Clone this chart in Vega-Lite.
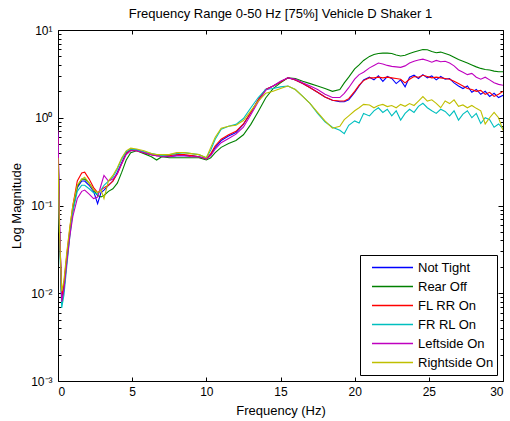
{
  "$schema": "https://vega.github.io/schema/vega-lite/v6.json",
  "width": 445,
  "height": 351,
  "autosize": {"type": "none"},
  "padding": {"left": 58, "top": 30, "right": 7, "bottom": 40},
  "background": "white",
  "title": {"text": "Frequency Range 0-50 Hz [75%] Vehicle D Shaker 1", "font": "Liberation Sans", "fontSize": 13, "fontWeight": "normal", "color": "black", "offset": 3},
  "data": {"values": [
    {"f": 0.0, "Not Tight": 0.65, "Rear Off": 0.55, "FL RR On": 0.6, "FR RL On": 0.5, "Leftside On": 0.72, "Rightside On": 0.35},
    {"f": 0.1, "Not Tight": 0.06, "Rear Off": 0.05, "FL RR On": 0.06, "FR RL On": 0.05, "Leftside On": 0.07, "Rightside On": 0.05},
    {"f": 0.25, "Not Tight": 0.0085, "Rear Off": 0.0075, "FL RR On": 0.009, "FR RL On": 0.0068, "Leftside On": 0.008, "Rightside On": 0.0105},
    {"f": 0.4, "Not Tight": 0.012, "Rear Off": 0.011, "FL RR On": 0.013, "FR RL On": 0.0095, "Leftside On": 0.011, "Rightside On": 0.014},
    {"f": 0.6, "Not Tight": 0.026, "Rear Off": 0.024, "FL RR On": 0.028, "FR RL On": 0.021, "Leftside On": 0.023, "Rightside On": 0.03},
    {"f": 0.8, "Not Tight": 0.05, "Rear Off": 0.048, "FL RR On": 0.055, "FR RL On": 0.045, "Leftside On": 0.045, "Rightside On": 0.058},
    {"f": 1.0, "Not Tight": 0.09, "Rear Off": 0.088, "FL RR On": 0.1, "FR RL On": 0.085, "Leftside On": 0.075, "Rightside On": 0.1},
    {"f": 1.3, "Not Tight": 0.16, "Rear Off": 0.165, "FL RR On": 0.19, "FR RL On": 0.145, "Leftside On": 0.12, "Rightside On": 0.17},
    {"f": 1.6, "Not Tight": 0.19, "Rear Off": 0.2, "FL RR On": 0.235, "FR RL On": 0.17, "Leftside On": 0.145, "Rightside On": 0.2},
    {"f": 1.8, "Not Tight": 0.19, "Rear Off": 0.2, "FL RR On": 0.24, "FR RL On": 0.17, "Leftside On": 0.15, "Rightside On": 0.21},
    {"f": 2.1, "Not Tight": 0.17, "Rear Off": 0.18, "FL RR On": 0.2, "FR RL On": 0.155, "Leftside On": 0.135, "Rightside On": 0.18},
    {"f": 2.4, "Not Tight": 0.145, "Rear Off": 0.15, "FL RR On": 0.16, "FR RL On": 0.14, "Leftside On": 0.12, "Rightside On": 0.15},
    {"f": 2.67, "Not Tight": 0.105, "Rear Off": 0.13, "FL RR On": 0.14, "FR RL On": 0.135, "Leftside On": 0.125, "Rightside On": 0.14},
    {"f": 2.9, "Not Tight": 0.14, "Rear Off": 0.125, "FL RR On": 0.15, "FR RL On": 0.15, "Leftside On": 0.17, "Rightside On": 0.15},
    {"f": 3.1, "Not Tight": 0.15, "Rear Off": 0.13, "FL RR On": 0.16, "FR RL On": 0.17, "Leftside On": 0.22, "Rightside On": 0.12},
    {"f": 3.4, "Not Tight": 0.17, "Rear Off": 0.145, "FL RR On": 0.17, "FR RL On": 0.19, "Leftside On": 0.19, "Rightside On": 0.19},
    {"f": 3.7, "Not Tight": 0.19, "Rear Off": 0.155, "FL RR On": 0.19, "FR RL On": 0.21, "Leftside On": 0.2, "Rightside On": 0.22},
    {"f": 4.0, "Not Tight": 0.24, "Rear Off": 0.18, "FL RR On": 0.23, "FR RL On": 0.26, "Leftside On": 0.23, "Rightside On": 0.27},
    {"f": 4.3, "Not Tight": 0.31, "Rear Off": 0.24, "FL RR On": 0.3, "FR RL On": 0.34, "Leftside On": 0.3, "Rightside On": 0.35},
    {"f": 4.6, "Not Tight": 0.4, "Rear Off": 0.33, "FL RR On": 0.39, "FR RL On": 0.41, "Leftside On": 0.38, "Rightside On": 0.42},
    {"f": 4.9, "Not Tight": 0.43, "Rear Off": 0.4, "FL RR On": 0.43, "FR RL On": 0.44, "Leftside On": 0.42, "Rightside On": 0.45},
    {"f": 5.3, "Not Tight": 0.43, "Rear Off": 0.42, "FL RR On": 0.42, "FR RL On": 0.43, "Leftside On": 0.42, "Rightside On": 0.44},
    {"f": 5.8, "Not Tight": 0.4, "Rear Off": 0.39, "FL RR On": 0.4, "FR RL On": 0.41, "Leftside On": 0.4, "Rightside On": 0.42},
    {"f": 6.3, "Not Tight": 0.38, "Rear Off": 0.36, "FL RR On": 0.38, "FR RL On": 0.39, "Leftside On": 0.38, "Rightside On": 0.39},
    {"f": 6.65, "Not Tight": 0.37, "Rear Off": 0.33, "FL RR On": 0.37, "FR RL On": 0.38, "Leftside On": 0.37, "Rightside On": 0.38},
    {"f": 7.0, "Not Tight": 0.37, "Rear Off": 0.36, "FL RR On": 0.37, "FR RL On": 0.37, "Leftside On": 0.36, "Rightside On": 0.38},
    {"f": 7.5, "Not Tight": 0.36, "Rear Off": 0.35, "FL RR On": 0.37, "FR RL On": 0.38, "Leftside On": 0.36, "Rightside On": 0.38},
    {"f": 8.0, "Not Tight": 0.37, "Rear Off": 0.35, "FL RR On": 0.38, "FR RL On": 0.39, "Leftside On": 0.37, "Rightside On": 0.4},
    {"f": 8.5, "Not Tight": 0.37, "Rear Off": 0.35, "FL RR On": 0.38, "FR RL On": 0.4, "Leftside On": 0.37, "Rightside On": 0.4},
    {"f": 9.0, "Not Tight": 0.37, "Rear Off": 0.35, "FL RR On": 0.37, "FR RL On": 0.39, "Leftside On": 0.36, "Rightside On": 0.39},
    {"f": 9.5, "Not Tight": 0.36, "Rear Off": 0.35, "FL RR On": 0.36, "FR RL On": 0.38, "Leftside On": 0.36, "Rightside On": 0.38},
    {"f": 10.0, "Not Tight": 0.34, "Rear Off": 0.33, "FL RR On": 0.34, "FR RL On": 0.35, "Leftside On": 0.34, "Rightside On": 0.35},
    {"f": 10.3, "Not Tight": 0.38, "Rear Off": 0.35, "FL RR On": 0.39, "FR RL On": 0.43, "Leftside On": 0.37, "Rightside On": 0.46},
    {"f": 10.6, "Not Tight": 0.46, "Rear Off": 0.4, "FL RR On": 0.48, "FR RL On": 0.57, "Leftside On": 0.44, "Rightside On": 0.6},
    {"f": 11.0, "Not Tight": 0.55, "Rear Off": 0.46, "FL RR On": 0.57, "FR RL On": 0.74, "Leftside On": 0.52, "Rightside On": 0.76},
    {"f": 11.5, "Not Tight": 0.62, "Rear Off": 0.51, "FL RR On": 0.64, "FR RL On": 0.8, "Leftside On": 0.58, "Rightside On": 0.8},
    {"f": 12.0, "Not Tight": 0.68, "Rear Off": 0.55, "FL RR On": 0.7, "FR RL On": 0.84, "Leftside On": 0.65, "Rightside On": 0.82},
    {"f": 12.5, "Not Tight": 0.84, "Rear Off": 0.64, "FL RR On": 0.85, "FR RL On": 0.98, "Leftside On": 0.78, "Rightside On": 0.93},
    {"f": 13.0, "Not Tight": 1.15, "Rear Off": 0.84, "FL RR On": 1.15, "FR RL On": 1.3, "Leftside On": 1.08, "Rightside On": 1.2},
    {"f": 13.5, "Not Tight": 1.6, "Rear Off": 1.18, "FL RR On": 1.6, "FR RL On": 1.7, "Leftside On": 1.52, "Rightside On": 1.55},
    {"f": 14.0, "Not Tight": 2.1, "Rear Off": 1.68, "FL RR On": 2.1, "FR RL On": 2.1, "Leftside On": 2.05, "Rightside On": 1.9},
    {"f": 14.5, "Not Tight": 2.3, "Rear Off": 2.15, "FL RR On": 2.3, "FR RL On": 2.15, "Leftside On": 2.3, "Rightside On": 2.0},
    {"f": 15.0, "Not Tight": 2.55, "Rear Off": 2.5, "FL RR On": 2.55, "FR RL On": 2.25, "Leftside On": 2.6, "Rightside On": 2.15},
    {"f": 15.5, "Not Tight": 2.85, "Rear Off": 2.85, "FL RR On": 2.85, "FR RL On": 2.3, "Leftside On": 2.85, "Rightside On": 2.3},
    {"f": 16.0, "Not Tight": 2.7, "Rear Off": 2.8, "FL RR On": 2.7, "FR RL On": 2.1, "Leftside On": 2.75, "Rightside On": 2.1},
    {"f": 16.5, "Not Tight": 2.45, "Rear Off": 2.6, "FL RR On": 2.45, "FR RL On": 1.75, "Leftside On": 2.5, "Rightside On": 1.75},
    {"f": 17.0, "Not Tight": 2.2, "Rear Off": 2.45, "FL RR On": 2.2, "FR RL On": 1.45, "Leftside On": 2.3, "Rightside On": 1.45},
    {"f": 17.5, "Not Tight": 1.95, "Rear Off": 2.3, "FL RR On": 1.95, "FR RL On": 1.12, "Leftside On": 2.1, "Rightside On": 1.15},
    {"f": 18.0, "Not Tight": 1.72, "Rear Off": 2.15, "FL RR On": 1.72, "FR RL On": 0.9, "Leftside On": 1.85, "Rightside On": 0.92},
    {"f": 18.5, "Not Tight": 1.58, "Rear Off": 2.0, "FL RR On": 1.58, "FR RL On": 0.78, "Leftside On": 1.7, "Rightside On": 0.76},
    {"f": 19.0, "Not Tight": 1.52, "Rear Off": 2.1, "FL RR On": 1.55, "FR RL On": 0.72, "Leftside On": 1.7, "Rightside On": 0.8},
    {"f": 19.3, "Not Tight": 1.52, "Rear Off": 2.5, "FL RR On": 1.55, "FR RL On": 0.66, "Leftside On": 1.9, "Rightside On": 0.95},
    {"f": 19.6, "Not Tight": 1.6, "Rear Off": 2.9, "FL RR On": 1.65, "FR RL On": 0.82, "Leftside On": 2.2, "Rightside On": 1.05},
    {"f": 20.0, "Not Tight": 1.95, "Rear Off": 3.6, "FL RR On": 2.0, "FR RL On": 0.92, "Leftside On": 2.75, "Rightside On": 1.2},
    {"f": 20.3, "Not Tight": 2.3, "Rear Off": 4.0, "FL RR On": 2.35, "FR RL On": 0.87, "Leftside On": 3.1, "Rightside On": 1.3},
    {"f": 20.6, "Not Tight": 2.7, "Rear Off": 4.5, "FL RR On": 2.65, "FR RL On": 1.12, "Leftside On": 3.3, "Rightside On": 1.42},
    {"f": 21.0, "Not Tight": 2.9, "Rear Off": 5.0, "FL RR On": 2.85, "FR RL On": 1.05, "Leftside On": 3.7, "Rightside On": 1.4},
    {"f": 21.3, "Not Tight": 2.7, "Rear Off": 5.25, "FL RR On": 2.85, "FR RL On": 1.2, "Leftside On": 3.95, "Rightside On": 1.3},
    {"f": 21.6, "Not Tight": 3.0, "Rear Off": 5.4, "FL RR On": 2.9, "FR RL On": 1.3, "Leftside On": 4.2, "Rightside On": 1.38},
    {"f": 21.9, "Not Tight": 2.6, "Rear Off": 5.45, "FL RR On": 2.85, "FR RL On": 1.15, "Leftside On": 4.1, "Rightside On": 1.42},
    {"f": 22.2, "Not Tight": 2.95, "Rear Off": 5.45, "FL RR On": 2.9, "FR RL On": 1.25, "Leftside On": 3.95, "Rightside On": 1.34},
    {"f": 22.5, "Not Tight": 2.8, "Rear Off": 5.4, "FL RR On": 2.85, "FR RL On": 1.05, "Leftside On": 3.85, "Rightside On": 1.38},
    {"f": 22.8, "Not Tight": 2.45, "Rear Off": 5.2, "FL RR On": 2.8, "FR RL On": 1.2, "Leftside On": 3.8, "Rightside On": 1.3},
    {"f": 23.1, "Not Tight": 2.7, "Rear Off": 5.05, "FL RR On": 2.75, "FR RL On": 0.94, "Leftside On": 3.75, "Rightside On": 1.42},
    {"f": 23.4, "Not Tight": 2.25, "Rear Off": 5.15, "FL RR On": 2.5, "FR RL On": 1.12, "Leftside On": 3.9, "Rightside On": 1.35},
    {"f": 23.7, "Not Tight": 2.9, "Rear Off": 5.4, "FL RR On": 2.75, "FR RL On": 1.25, "Leftside On": 4.2, "Rightside On": 1.45},
    {"f": 24.0, "Not Tight": 3.05, "Rear Off": 5.6, "FL RR On": 2.95, "FR RL On": 1.15, "Leftside On": 4.4, "Rightside On": 1.38},
    {"f": 24.3, "Not Tight": 2.8, "Rear Off": 5.8, "FL RR On": 2.9, "FR RL On": 1.35, "Leftside On": 4.55, "Rightside On": 1.55},
    {"f": 24.6, "Not Tight": 3.1, "Rear Off": 6.0, "FL RR On": 3.05, "FR RL On": 1.46, "Leftside On": 4.65, "Rightside On": 1.74},
    {"f": 24.9, "Not Tight": 2.85, "Rear Off": 5.95, "FL RR On": 2.95, "FR RL On": 1.3, "Leftside On": 4.5, "Rightside On": 1.55},
    {"f": 25.2, "Not Tight": 3.0, "Rear Off": 5.7, "FL RR On": 2.85, "FR RL On": 1.2, "Leftside On": 4.3, "Rightside On": 1.6},
    {"f": 25.5, "Not Tight": 2.7, "Rear Off": 5.5, "FL RR On": 2.9, "FR RL On": 1.12, "Leftside On": 4.5, "Rightside On": 1.46},
    {"f": 25.8, "Not Tight": 2.95, "Rear Off": 5.6, "FL RR On": 2.85, "FR RL On": 1.25, "Leftside On": 4.35, "Rightside On": 1.3},
    {"f": 26.1, "Not Tight": 2.75, "Rear Off": 5.4, "FL RR On": 2.8, "FR RL On": 1.18, "Leftside On": 4.4, "Rightside On": 1.55},
    {"f": 26.4, "Not Tight": 2.8, "Rear Off": 5.2, "FL RR On": 2.75, "FR RL On": 1.05, "Leftside On": 4.2, "Rightside On": 1.45},
    {"f": 26.7, "Not Tight": 2.5, "Rear Off": 4.9, "FL RR On": 2.6, "FR RL On": 1.2, "Leftside On": 3.9, "Rightside On": 1.6},
    {"f": 27.0, "Not Tight": 2.3, "Rear Off": 4.6, "FL RR On": 2.45, "FR RL On": 0.94, "Leftside On": 3.5, "Rightside On": 1.35},
    {"f": 27.3, "Not Tight": 2.15, "Rear Off": 4.4, "FL RR On": 2.3, "FR RL On": 1.1, "Leftside On": 3.3, "Rightside On": 1.4},
    {"f": 27.6, "Not Tight": 2.3, "Rear Off": 4.2, "FL RR On": 2.15, "FR RL On": 1.2, "Leftside On": 3.1, "Rightside On": 1.3},
    {"f": 27.9, "Not Tight": 1.95, "Rear Off": 4.0, "FL RR On": 2.1, "FR RL On": 1.0, "Leftside On": 3.2, "Rightside On": 1.38},
    {"f": 28.2, "Not Tight": 2.1, "Rear Off": 3.8, "FL RR On": 2.0, "FR RL On": 1.12, "Leftside On": 2.9, "Rightside On": 1.28},
    {"f": 28.5, "Not Tight": 1.85, "Rear Off": 3.65, "FL RR On": 2.05, "FR RL On": 0.86, "Leftside On": 2.75, "Rightside On": 1.2},
    {"f": 28.8, "Not Tight": 2.0, "Rear Off": 3.55, "FL RR On": 1.85, "FR RL On": 1.0, "Leftside On": 2.9, "Rightside On": 0.85},
    {"f": 29.1, "Not Tight": 1.75, "Rear Off": 3.5, "FL RR On": 1.95, "FR RL On": 0.95, "Leftside On": 2.7, "Rightside On": 1.0},
    {"f": 29.4, "Not Tight": 1.9, "Rear Off": 3.4, "FL RR On": 1.75, "FR RL On": 0.78, "Leftside On": 2.5, "Rightside On": 1.15},
    {"f": 29.7, "Not Tight": 1.7, "Rear Off": 3.35, "FL RR On": 1.85, "FR RL On": 0.85, "Leftside On": 2.4, "Rightside On": 1.0},
    {"f": 30.0, "Not Tight": 1.8, "Rear Off": 3.35, "FL RR On": 2.0, "FR RL On": 0.75, "Leftside On": 2.35, "Rightside On": 0.72}
  ]},
  "transform": [
    {"fold": ["Not Tight", "Rear Off", "FL RR On", "FR RL On", "Leftside On", "Rightside On"], "as": ["series", "mag"]}
  ],
  "layer": [
    {
      "mark": {"type": "line", "strokeWidth": 1.1, "clip": true},
      "encoding": {
        "x": {"field": "f", "type": "quantitative", "scale": {"domain": [0, 30], "nice": false, "zero": false},
              "axis": {"orient": "bottom", "values": [0, 5, 10, 15, 20, 25, 30], "title": "Frequency (Hz)", "tickSize": -4, "labelPadding": 9, "titlePadding": 7}},
        "y": {"field": "mag", "type": "quantitative", "scale": {"type": "log", "domain": [0.001, 10], "nice": false},
              "axis": {"orient": "left", "values": [0.001, 0.01, 0.1, 1, 10], "title": "Log Magnitude", "tickSize": -5, "labelPadding": 11, "titlePadding": 7,
                       "labelExpr": "datum.value > 5 ? '10¹' : datum.value > 0.5 ? '10⁰' : datum.value > 0.05 ? '10⁻¹' : datum.value > 0.005 ? '10⁻²' : '10⁻³'"}},
        "color": {"field": "series", "type": "nominal",
                  "scale": {"domain": ["Not Tight", "Rear Off", "FL RR On", "FR RL On", "Leftside On", "Rightside On"],
                            "range": ["#0000FF", "#008000", "#FF0000", "#00BFBF", "#BF00BF", "#BFBF00"]},
                  "legend": {"orient": "bottom-right", "offset": 6, "title": null, "symbolType": "stroke", "symbolSize": 1681, "symbolStrokeWidth": 1.3,
                             "symbolOpacity": 1,
                             "strokeColor": "black", "fillColor": "white", "padding": 3, "symbolOffset": 8, "clipHeight": 19, "rowPadding": 0,
                             "labelFontSize": 13, "labelFont": "Liberation Sans", "labelColor": "black", "labelOffset": 4, "labelBaseline": "middle"}}
      }
    },
    {
      "mark": {"type": "point", "opacity": 0},
      "encoding": {
        "x": {"field": "f", "type": "quantitative", "axis": {"orient": "top", "values": [0, 5, 10, 15, 20, 25, 30], "labels": false, "title": null, "tickSize": -4}},
        "y": {"field": "mag", "type": "quantitative", "scale": {"type": "log"}, "axis": {"orient": "right", "values": [0.001, 0.01, 0.1, 1, 10], "labels": false, "title": null, "tickSize": -5}}
      }
    },
    {
      "mark": {"type": "point", "opacity": 0},
      "encoding": {
        "x": {"field": "f", "type": "quantitative", "axis": null},
        "y": {"field": "mag", "type": "quantitative", "scale": {"type": "log"}, "axis": {"orient": "left", "values": [0.002, 0.003, 0.004, 0.005, 0.006, 0.007, 0.008, 0.009, 0.02, 0.03, 0.04, 0.05, 0.06, 0.07, 0.08, 0.09, 0.2, 0.3, 0.4, 0.5, 0.6, 0.7, 0.8, 0.9, 2, 3, 4, 5, 6, 7, 8, 9], "labels": false, "domain": false, "title": null, "tickSize": -3}}
      }
    },
    {
      "mark": {"type": "point", "opacity": 0},
      "encoding": {
        "x": {"field": "f", "type": "quantitative", "axis": null},
        "y": {"field": "mag", "type": "quantitative", "scale": {"type": "log"}, "axis": {"orient": "right", "values": [0.002, 0.003, 0.004, 0.005, 0.006, 0.007, 0.008, 0.009, 0.02, 0.03, 0.04, 0.05, 0.06, 0.07, 0.08, 0.09, 0.2, 0.3, 0.4, 0.5, 0.6, 0.7, 0.8, 0.9, 2, 3, 4, 5, 6, 7, 8, 9], "labels": false, "domain": false, "title": null, "tickSize": -3}}
      }
    }
  ],
  "resolve": {"axis": {"x": "independent", "y": "independent"}},
  "config": {
    "view": {"stroke": null},
    "axis": {"grid": false, "domainColor": "black", "domainWidth": 1, "tickColor": "black", "tickWidth": 1,
             "labelColor": "black", "labelFont": "Liberation Sans", "labelFontSize": 12,
             "titleColor": "black", "titleFont": "Liberation Sans", "titleFontSize": 13, "titleFontWeight": "normal"}
  }
}
